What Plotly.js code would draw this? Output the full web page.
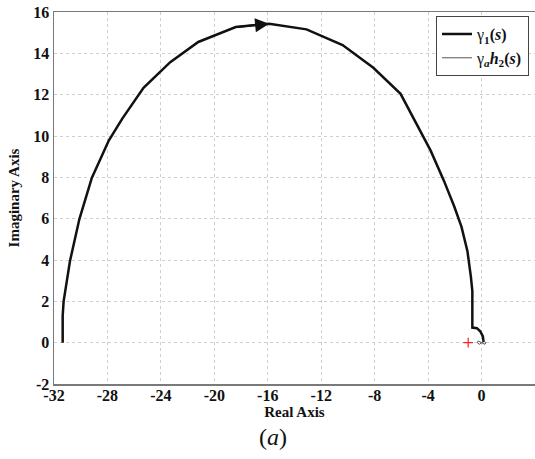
<!DOCTYPE html>
<html>
<head>
<meta charset="utf-8">
<script src="https://cdn.plot.ly/plotly-3.0.1.min.js"></script>
<style>
  html, body { margin: 0; padding: 0; background: #fff; }
  #plot { width: 535px; height: 459px; }
</style>
</head>
<body>
<div id="plot"></div>
<script>
// Nyquist locus of gamma_1(s): real and imaginary parts along the frequency sweep
const gamma1Re = [-31.35, -31.35, -31.28, -31.05, -30.8, -30.1, -29.17, -27.9, -26.9, -25.3,
                  -23.3, -21.2, -18.4, -15.9, -13.1, -10.4, -8.1, -6.06, -3.81, -2.82,
                  -2.05, -1.5, -1.06, -0.8, -0.69, -0.69, -0.35, -0.1, 0.1, 0.15];
const gamma1Im = [0, 1.3, 2.0, 3.0, 3.96, 5.98, 7.97, 9.78, 10.83, 12.33,
                  13.57, 14.55, 15.27, 15.43, 15.16, 14.4, 13.3, 12.04, 9.29, 7.84,
                  6.6, 5.6, 4.44, 3.2, 2.5, 0.73, 0.7, 0.55, 0.3, 0.02];

// Nyquist locus of gamma_a * h_2(s): stays in a tiny loop around the origin
const gammaAh2Re = [0, -0.25, -0.32, -0.15, 0, 0.15, 0.32, 0.25, 0];
const gammaAh2Im = [0, 0.08, 0, -0.08, 0, 0.08, 0, -0.08, 0];

// Critical point (-1, 0)
const criticalRe = [-1];
const criticalIm = [0];

// Index of the segment that carries the direction arrow
const arrowSeg = 12;

const xTicks = [-32, -28, -24, -20, -16, -12, -8, -4, 0, 4];
const yTicks = [-2, 0, 2, 4, 6, 8, 10, 12, 14, 16];

const serif = "'Liberation Serif', 'Times New Roman', Times, serif";
const bold = v => '<b>' + v + '</b>';

const traces = [
  {
    x: gamma1Re, y: gamma1Im, mode: 'lines', type: 'scatter',
    name: 'γ<sub><b>1</b></sub><b>(<i>s</i>)</b>',
    line: { color: '#111111', width: 2.5 }
  },
  {
    x: gammaAh2Re, y: gammaAh2Im, mode: 'lines', type: 'scatter',
    name: 'γ<sub><b><i>a</i></b></sub><b><i>h</i></b><sub><b>2</b></sub><b>(<i>s</i>)</b>',
    line: { color: '#555555', width: 1 }
  },
  {
    x: criticalRe, y: criticalIm, mode: 'markers', type: 'scatter',
    showlegend: false, hoverinfo: 'skip',
    marker: { symbol: 'cross-thin', size: 7, line: { color: '#ff2020', width: 1.2 } }
  }
];

const gridAxis = {
  showgrid: true, gridcolor: '#cfcfcf', griddash: 'dot', gridwidth: 1,
  zeroline: false, showline: true, linecolor: '#7a7a7a', linewidth: 1.5, mirror: true,
  ticks: '',
  tickfont: { family: serif, size: 16, color: '#111111' }
};

const layout = {
  width: 535, height: 459,
  margin: { l: 54, r: 0, t: 12, b: 75 },
  paper_bgcolor: '#ffffff', plot_bgcolor: '#ffffff',
  font: { family: serif, color: '#111111' },
  showlegend: true,
  legend: {
    x: 0.9875, xanchor: 'right', y: 0.989, yanchor: 'top',
    bgcolor: '#ffffff', bordercolor: '#444444', borderwidth: 1,
    font: { family: serif, size: 16, color: '#111111' },
    itemwidth: 30
  },
  xaxis: Object.assign({}, gridAxis, {
    range: [-32, 4], tickvals: xTicks, ticktext: xTicks.map(bold),
    ticklabelstandoff: -4,
    title: { text: '<b>Real Axis</b>', font: { family: serif, size: 15, color: '#111111' }, standoff: 4 }
  }),
  yaxis: Object.assign({}, gridAxis, {
    range: [-2, 16], tickvals: yTicks, ticktext: yTicks.map(bold),
    title: { text: '<b>Imaginary Axis</b>', font: { family: serif, size: 15, color: '#111111' }, standoff: 10 }
  }),
  annotations: [
    {
      // direction arrow along the locus
      x: gamma1Re[arrowSeg + 1], y: gamma1Im[arrowSeg + 1],
      ax: gamma1Re[arrowSeg], ay: gamma1Im[arrowSeg],
      xref: 'x', yref: 'y', axref: 'x', ayref: 'y',
      showarrow: true, arrowhead: 2, arrowsize: 1.4, arrowwidth: 2, arrowcolor: '#111111',
      text: ''
    },
    {
      text: '(<i>a</i>)', xref: 'paper', yref: 'paper', x: 0.455, y: -0.142,
      xanchor: 'center', yanchor: 'middle', showarrow: false,
      font: { family: serif, size: 24, color: '#111111' }
    }
  ]
};

Plotly.newPlot('plot', traces, layout, { displayModeBar: false, staticPlot: true });
</script>
</body>
</html>
